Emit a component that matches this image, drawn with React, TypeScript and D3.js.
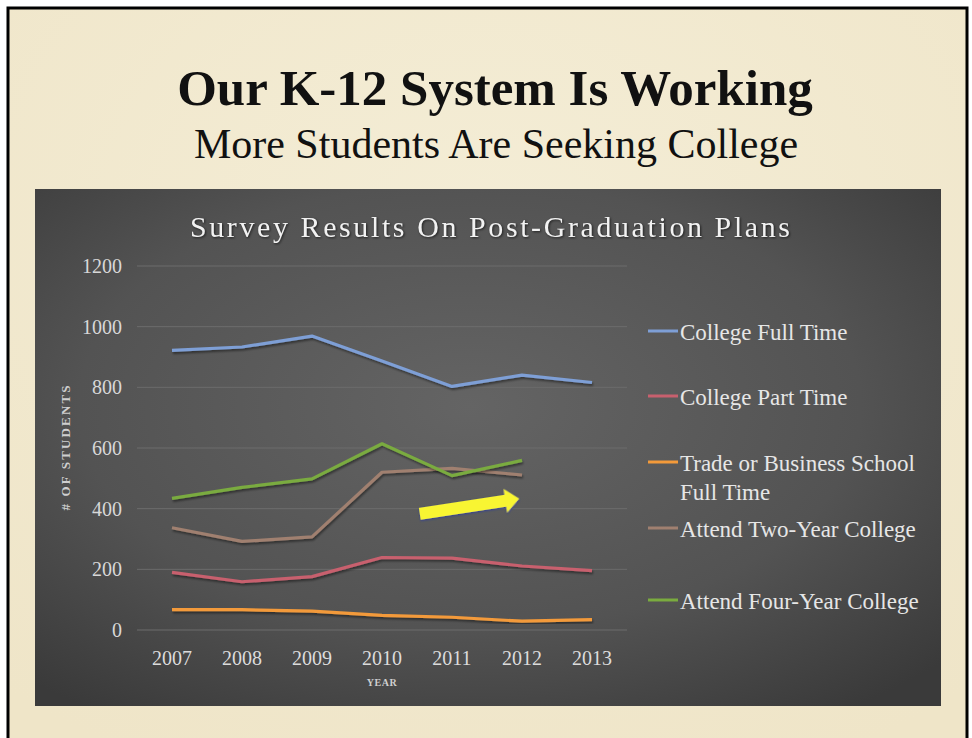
import React, { useEffect } from "react"
import * as d3 from "d3"

// values
const years = ["2007", "2008", "2009", "2010", "2011", "2012", "2013"]
const collegeFullTime = [922, 933, 969, 887, 803, 840, 816]
const collegePartTime = [190, 159, 176, 239, 237, 211, 196]
const tradeSchool = [67, 67, 62, 48, 42, 29, 34]
const twoYearCollege = [337, 292, 307, 520, 533, 511, null]
const fourYearCollege = [434, 470, 498, 614, 509, 559, null]
const yTicks = [0, 200, 400, 600, 800, 1000, 1200]

const seriesNames = [
  ["College Full Time"],
  ["College Part Time"],
  ["Trade or Business School", "Full Time"],
  ["Attend Two-Year College"],
  ["Attend Four-Year College"],
]
const seriesColors = ["#7e9fd6", "#c8606e", "#f39a3a", "#a08070", "#7aab3f"]
const seriesValues = [collegeFullTime, collegePartTime, tradeSchool, twoYearCollege, fourYearCollege]

// arrow annotation, in data units (year, students)
const arrowFrom = [2010.54, 383]
const arrowTo = [2011.96, 433]

const W = 972
const H = 738
const legendRowY = [331, 396, 462, 528, 600]
const serif = "Liberation Serif"
const txt = { fontFamily: serif }

export default function App() {
  useEffect(() => {
    document.body.style.margin = "0"
  }, [])

  const x = d3.scalePoint<string>().domain(years).range([137, 627]).padding(0.5)
  const y = d3.scaleLinear().domain([0, 1200]).range([630, 266])
  const xYear = d3
    .scaleLinear()
    .domain([2007, 2013])
    .range([x("2007")!, x("2013")!])

  const line = d3
    .line<[string, number | null]>()
    .defined((d) => d[1] != null)
    .x((d) => x(d[0])!)
    .y((d) => y(d[1] as number))

  const ax0 = xYear(arrowFrom[0])
  const ay0 = y(arrowFrom[1])
  const ax1 = xYear(arrowTo[0])
  const ay1 = y(arrowTo[1])
  const aLen = Math.hypot(ax1 - ax0, ay1 - ay0)
  const aAng = (Math.atan2(ay1 - ay0, ax1 - ax0) * 180) / Math.PI
  const hl = 14
  const arrowPts = [
    [0, -6],
    [aLen - hl, -6],
    [aLen - hl, -12],
    [aLen, 0],
    [aLen - hl, 12],
    [aLen - hl, 6],
    [0, 6],
  ]
    .map((p) => p.join(","))
    .join(" ")

  return (
    <svg width={W} height={H} style={{ display: "block" }}>
      <defs>
        <radialGradient id="panelBg" cx="0.48" cy="0.42" r="0.72">
          <stop offset="0" stopColor="#646464" />
          <stop offset="0.6" stopColor="#535353" />
          <stop offset="1" stopColor="#3a3a3a" />
        </radialGradient>
        <radialGradient id="slideBg" cx="0.5" cy="0.3" r="0.8">
          <stop offset="0" stopColor="#f4edd6" />
          <stop offset="1" stopColor="#efe5c8" />
        </radialGradient>
        <filter id="lineShadow" x="-10%" y="-10%" width="120%" height="130%">
          <feDropShadow dx="1" dy="2" stdDeviation="1.2" floodColor="#000" floodOpacity="0.45" />
        </filter>
        <filter id="arrowGlow" x="-20%" y="-50%" width="140%" height="200%">
          <feDropShadow dx="0" dy="1" stdDeviation="1.2" floodColor="#2b3a9c" floodOpacity="0.9" />
        </filter>
      </defs>

      <rect width={W} height={H} fill="#fff" />
      <rect x={8} y={8} width={959} height={H} fill="url(#slideBg)" stroke="#000" strokeWidth={3} />

      <text x={495} y={105} textAnchor="middle" fontSize={51} fontWeight="bold" fill="#111" style={txt}>
        Our K-12 System Is Working
      </text>
      <text x={496} y={158} textAnchor="middle" fontSize={42} fill="#111" style={txt}>
        More Students Are Seeking College
      </text>

      <rect x={35} y={189} width={906} height={517} fill="url(#panelBg)" />

      <text
        x={490}
        y={237}
        textAnchor="middle"
        fontSize={30}
        fill="#f2f2f2"
        textLength={600}
        lengthAdjust="spacing"
        style={{ ...txt, filter: "drop-shadow(1px 1px 1px rgba(0,0,0,0.6))" }}
      >
        Survey Results On Post-Graduation Plans
      </text>

      {yTicks.map((t) => (
        <g key={t}>
          <line x1={137} x2={627} y1={y(t)} y2={y(t)} stroke="#6c6c6c" strokeWidth={1} />
          <text x={122} y={y(t)} dy="0.35em" textAnchor="end" fontSize={20} fill="#d8d8d8" style={txt}>
            {t}
          </text>
        </g>
      ))}

      {years.map((yr) => (
        <text key={yr} x={x(yr)} y={665} textAnchor="middle" fontSize={20} fill="#dcdcdc" style={txt}>
          {yr}
        </text>
      ))}
      <text x={x("2010")} y={686} textAnchor="middle" fontSize={10} fontWeight="bold" fill="#cfcfcf" letterSpacing={0.5} style={txt}>
        YEAR
      </text>
      <text
        transform={`translate(70, ${y(600)}) rotate(-90)`}
        textAnchor="middle"
        fontSize={13}
        fontWeight="bold"
        fill="#cfcfcf"
        textLength={125}
        lengthAdjust="spacing"
        style={txt}
      >
        # OF STUDENTS
      </text>

      {seriesValues.map((vals, i) => (
        <path
          key={i}
          d={line(years.map((yr, j) => [yr, vals[j]] as [string, number | null])) || ""}
          fill="none"
          stroke={seriesColors[i]}
          strokeWidth={3.2}
          strokeLinejoin="round"
          filter="url(#lineShadow)"
        />
      ))}

      <polygon
        points={arrowPts}
        transform={`translate(${ax0},${ay0}) rotate(${aAng})`}
        fill="#f8f532"
        filter="url(#arrowGlow)"
      />

      {seriesNames.map((lines, i) => (
        <g key={i} transform={`translate(0, ${legendRowY[i]})`}>
          <line x1={648} x2={678} y1={0} y2={0} stroke={seriesColors[i]} strokeWidth={3} />
          {lines.map((l, k) => (
            <text key={k} x={680} y={9 + k * 29} fontSize={23} fill="#e6e6e6" style={txt}>
              {l}
            </text>
          ))}
        </g>
      ))}
    </svg>
  )
}
